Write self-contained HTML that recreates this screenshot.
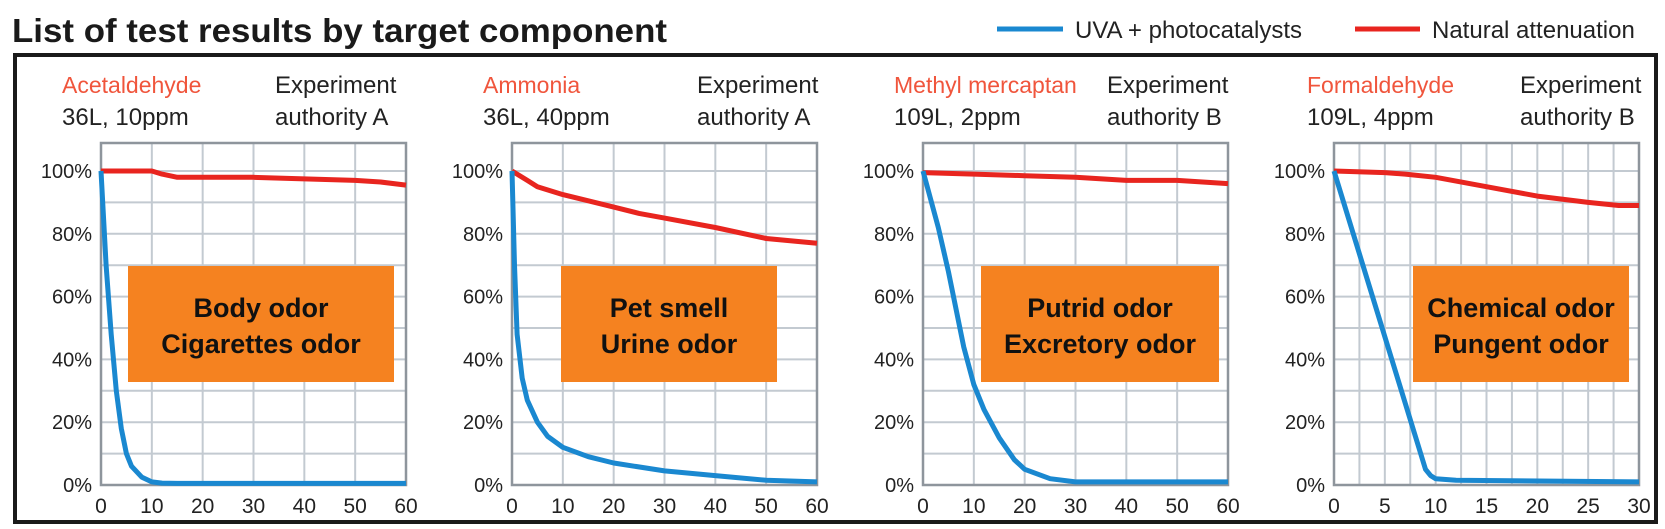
<!DOCTYPE html>
<html><head><meta charset="utf-8"><style>
html,body{margin:0;padding:0;background:#fff;}
svg{display:block;font-family:"Liberation Sans",sans-serif;}
</style></head><body>
<svg id="root" width="1665" height="529" viewBox="0 0 1665 529" xmlns="http://www.w3.org/2000/svg">
<rect x="0" y="0" width="1665" height="529" fill="#fff"/>
<text x="12" y="42" font-size="33" font-weight="bold" fill="#1a1a1a" textLength="655" lengthAdjust="spacingAndGlyphs">List of test results by target component</text>
<g>
<line x1="997" y1="29" x2="1063" y2="29" stroke="#1a88d0" stroke-width="5"/>
<text x="1075" y="38" font-size="24" fill="#222">UVA + photocatalysts</text>
<line x1="1355" y1="29" x2="1420" y2="29" stroke="#e8251f" stroke-width="5"/>
<text x="1432" y="38" font-size="24" fill="#222">Natural attenuation</text>
</g>
<rect x="15" y="55" width="1641" height="467" fill="none" stroke="#1a1a1a" stroke-width="4"/>
<g id="charts"></g>
</svg>
<script>
// Chart 1: Acetaldehyde
const c1X_uva = [0,1,2,3,4,5,6,8,10,12,15,60];
const c1Y_uva = [100,70,48,30,18,10,6,2.5,1,0.6,0.5,0.5];
const c1X_nat = [0,10,12,15,30,40,50,55,60];
const c1Y_nat = [100,100,99,98,98,97.5,97,96.5,95.5];
// Chart 2: Ammonia
const c2X_uva = [0,0.5,1,2,3,5,7,10,15,20,30,40,50,60];
const c2Y_uva = [100,70,48,34,27,20,15.5,12,9,7,4.5,3,1.5,1];
const c2X_nat = [0,3,5,10,15,20,25,30,40,50,60];
const c2Y_nat = [100,97,95,92.5,90.5,88.5,86.5,85,82,78.5,77];
// Chart 3: Methyl mercaptan
const c3X_uva = [0,3,5,8,10,12,15,18,20,25,30,60];
const c3Y_uva = [100,82,68,44,32,24,15,8,5,2,1,1];
const c3X_nat = [0,10,20,30,40,50,60];
const c3Y_nat = [99.5,99,98.5,98,97,97,96];
// Chart 4: Formaldehyde
const c4X_uva = [0,9,9.5,10,12,30];
const c4Y_uva = [100,5,3,2,1.5,1];
const c4X_nat = [0,5,7,10,15,20,25,28,30];
const c4Y_nat = [100,99.5,99,98,95,92,90,89,89];

const xMax = [60,60,60,30];
const xTicks1 = [0,10,20,30,40,50,60];
const xTicks4 = [0,5,10,15,20,25,30];
const yTicks = [0,20,40,60,80,100];
const compNames = ["Acetaldehyde","Ammonia","Methyl mercaptan","Formaldehyde"];
const conditions = ["36L, 10ppm","36L, 40ppm","109L, 2ppm","109L, 4ppm"];
const authorities = ["authority A","authority A","authority B","authority B"];
const odor1 = ["Body odor","Pet smell","Putrid odor","Chemical odor"];
const odor2 = ["Cigarettes odor","Urine odor","Excretory odor","Pungent odor"];

const NS="http://www.w3.org/2000/svg";
const chartsRoot=document.getElementById('charts');
function mk(tag,attrs,parent){const e=document.createElementNS(NS,tag);for(const k in attrs)e.setAttribute(k,attrs[k]);parent.appendChild(e);return e;}

const lefts=[101,512,923,1334], W=305, plotTop=143, y0=485, y100=171;
const boxL=[27,49,58,79], boxR=[293,265,296,295];
const nameOff=[-39,-29,-29,-27], expOff=[174,185,184,186];
const series=[[c1X_uva,c1Y_uva,c1X_nat,c1Y_nat],[c2X_uva,c2Y_uva,c2X_nat,c2Y_nat],[c3X_uva,c3Y_uva,c3X_nat,c3Y_nat],[c4X_uva,c4Y_uva,c4X_nat,c4Y_nat]];

for(let i=0;i<4;i++){
  const L=lefts[i];
  const sx=v=>L+v/xMax[i]*W;
  const sy=v=>y0-(v/100)*(y0-y100);
  const g=mk('g',{},chartsRoot);
  
  
  let t=mk('text',{x:L+nameOff[i],y:93,'font-size':23,fill:'#f0553c'},g);t.textContent=compNames[i];
  
  
  t=mk('text',{x:L+nameOff[i],y:125,'font-size':24,fill:'#222'},g);t.textContent=conditions[i];
  
  
  t=mk('text',{x:L+expOff[i],y:93,'font-size':24,fill:'#222'},g);t.textContent="Experiment";
  
  
  t=mk('text',{x:L+expOff[i],y:125,'font-size':24,fill:'#222'},g);t.textContent=authorities[i];
  
  
  mk('rect',{x:L,y:plotTop,width:W,height:y0-plotTop,fill:'#fff'},g);
  for(let p=10;p<=100;p+=10){const l=mk('line',{x1:L,x2:L+W,y1:sy(p),y2:sy(p),stroke:'#c3cad1','stroke-width':2},g);
    
    }
  const step=i===3?2.5:10;
  for(let v=step;v<xMax[i];v+=step){const l=mk('line',{x1:sx(v),x2:sx(v),y1:plotTop,y2:y0,stroke:'#c3cad1','stroke-width':2},g);
    
    }
  const fr=mk('rect',{x:L,y:plotTop,width:W,height:y0-plotTop,fill:'none',stroke:'#8e959c','stroke-width':2.5},g);
  
  
  yTicks.forEach(v=>{const tt=mk('text',{x:L-9,y:sy(v)+7,'font-size':20,'text-anchor':'end',fill:'#222'},g);tt.textContent=v+'%';
    
    });
  (i===3?xTicks4:xTicks1).forEach(v=>{const tt=mk('text',{x:sx(v),y:513,'font-size':21,'text-anchor':'middle',fill:'#222'},g);tt.textContent=v;
    
    });
  const b=mk('rect',{x:L+boxL[i],y:266,width:boxR[i]-boxL[i],height:116,fill:'#f58220'},g);
  
  
  const cx=L+(boxL[i]+boxR[i])/2;
  t=mk('text',{x:cx,y:317,'font-size':27,'font-weight':'bold','text-anchor':'middle',fill:'#111'},g);t.textContent=odor1[i];
  
  
  t=mk('text',{x:cx,y:353,'font-size':27,'font-weight':'bold','text-anchor':'middle',fill:'#111'},g);t.textContent=odor2[i];
  
  
  const s=series[i];
  const pn=s[2].map((x,k)=>sx(x).toFixed(1)+','+sy(s[3][k]).toFixed(1)).join(' ');
  const ln=mk('polyline',{points:pn,fill:'none',stroke:'#e8251f','stroke-width':5,'stroke-linejoin':'round'},g);
  
  
  const pu=s[0].map((x,k)=>sx(x).toFixed(1)+','+sy(s[1][k]).toFixed(1)).join(' ');
  const lu=mk('polyline',{points:pu,fill:'none',stroke:'#1a88d0','stroke-width':5,'stroke-linejoin':'round'},g);
  
  
}
</script>
</body></html>
